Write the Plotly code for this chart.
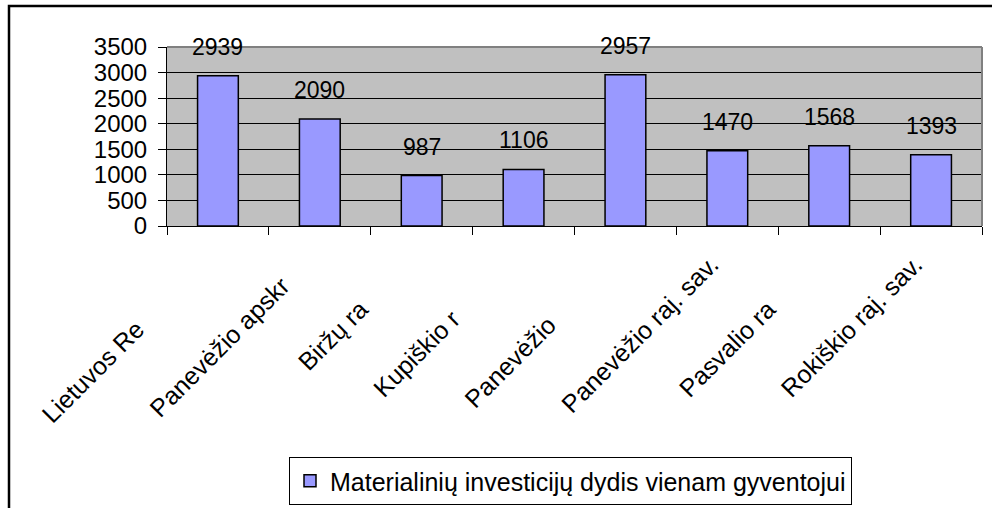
import plotly.graph_objects as go

# ---- data ----
categories = ["Lietuvos Respublika", "Panevėžio apskritis", "Biržų raj. sav.",
              "Kupiškio raj. sav.", "Panevėžio m. sav.", "Panevėžio raj. sav.",
              "Pasvalio raj. sav.", "Rokiškio raj. sav."]
# number of characters of each label that are visible (rest is clipped in the original)
visible_chars = [11, 15, 8, 10, 9, 19, 11, 18]
values = [2939, 2090, 987, 1106, 2957, 1470, 1568, 1393]
series_name = "Materialinių investicijų dydis vienam gyventojui"
y_ticks = [0, 500, 1000, 1500, 2000, 2500, 3000, 3500]

FONT = "Liberation Sans, Arial, sans-serif"
W, H = 992, 508
ML, MR, MT, MB = 167, 10, 47, 282
PW, PH = W - ML - MR, H - MT - MB


def px_x(px):
    return (px - ML) / PW


def px_y(py):
    return (H - MB - py) / PH


def clipped_label(full, n):
    shown, hidden = full[:n], full[n:]
    if hidden:
        return shown + '<span style="color:#ffffff">' + hidden + '</span>'
    return shown


ticktext = [clipped_label(c, n) for c, n in zip(categories, visible_chars)]

fig = go.Figure()
fig.add_trace(go.Bar(
    x=categories, y=values, name=series_name,
    marker=dict(color="#9999FF", line=dict(color="#000000", width=1.5)),
    showlegend=True,
))

for c, v in zip(categories, values):
    fig.add_annotation(x=c, y=v, text=str(v), showarrow=False,
                       yanchor="middle", yshift=29,
                       font=dict(family=FONT, size=23, color="#000000"))

shapes = [
    # plot area top and right border (gray)
    dict(type="line", xref="paper", yref="paper", x0=0, x1=1, y0=1, y1=1,
         line=dict(color="#808080", width=2), layer="above"),
    dict(type="line", xref="paper", yref="paper", x0=1, x1=1, y0=0, y1=1,
         line=dict(color="#808080", width=2), layer="above"),
    # outer chart frame
    dict(type="rect", xref="paper", yref="paper",
         x0=px_x(9), x1=px_x(1010), y0=px_y(525), y1=px_y(6),
         line=dict(color="#000000", width=2.5), layer="above"),
]

fig.update_layout(
    width=W, height=H,
    margin=dict(l=ML, r=MR, t=MT, b=MB, autoexpand=False),
    paper_bgcolor="#FFFFFF", plot_bgcolor="#C0C0C0",
    bargap=0.6,
    font=dict(family=FONT, color="#000000"),
    shapes=shapes,
    showlegend=True,
    legend=dict(
        orientation="h", x=px_x(289), y=px_y(457), xanchor="left", yanchor="top",
        bgcolor="#FFFFFF", bordercolor="#000000", borderwidth=1,
        font=dict(family=FONT, size=25, color="#000000"),
    ),
    xaxis=dict(
        type="category", tickmode="array", tickvals=categories, ticktext=ticktext,
        tickangle=-45, tickfont=dict(family=FONT, size=25, color="#000000"),
        showline=True, linecolor="#000000", linewidth=1,
        ticks="outside", ticklen=8, tickcolor="#000000", tickson="boundaries",
        showgrid=False, automargin=False,
        ticklabelstandoff=13, ticklabelshift=-16,
    ),
    yaxis=dict(
        range=[0, 3500], tickmode="array", tickvals=y_ticks,
        tickfont=dict(family=FONT, size=24, color="#000000"),
        showline=True, linecolor="#000000", linewidth=1,
        ticks="outside", ticklen=8, tickcolor="#000000",
        showgrid=True, gridcolor="#000000", gridwidth=1, zeroline=False,
        automargin=False, ticklabelstandoff=6,
    ),
)

fig.write_html("out.html",
               config={"displayModeBar": False},
               post_script="document.body.style.margin='0';document.body.style.overflow='hidden';")
